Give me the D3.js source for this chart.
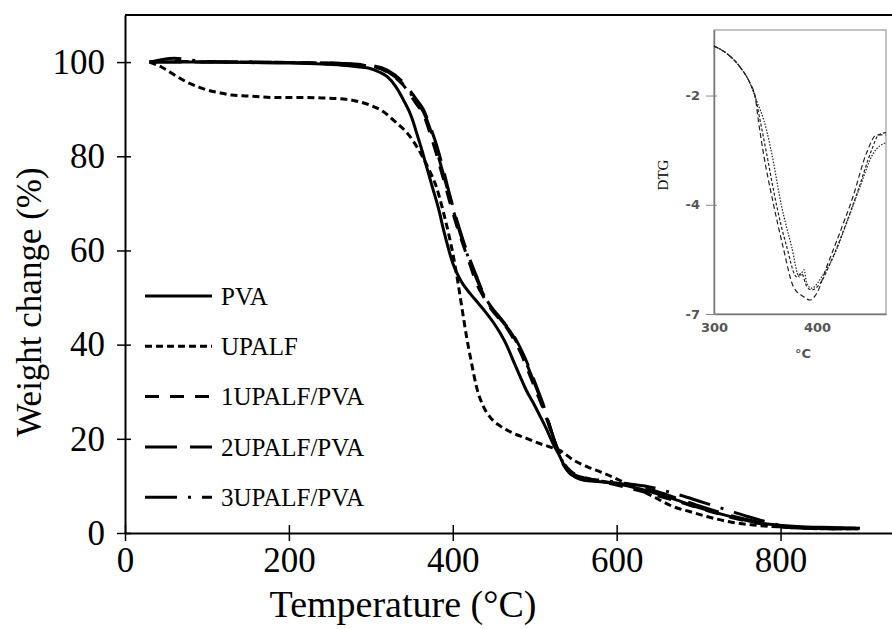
<!DOCTYPE html>
<html>
<head>
<meta charset="utf-8">
<script src="https://cdn.jsdelivr.net/npm/d3@7"></script>
<style>
	html, body { margin: 0; padding: 0; background: #fff; }
	svg { display: block; }
	.serif { font-family: "Liberation Serif", "Times New Roman", serif; fill: #000; }
	.inset-text { font-family: "DejaVu Sans", Verdana, sans-serif; font-weight: bold; fill: #555; }
</style>
</head>
<body>
<div id="chart"></div>
<script>
// ---- main TGA curves (temperature in °C, weight in %) ----
const pvaTemp = [30, 60, 100, 150, 200, 240, 270, 290, 300, 310, 320, 330, 340, 350, 356, 362, 368, 375, 382, 390, 400, 410, 421, 432, 441, 450, 458, 466, 474, 482, 490, 498, 506, 514, 522, 530, 536, 542, 550, 560, 580, 608, 640, 670, 700, 730, 760, 790, 820, 850, 875, 897];
const pvaWeight = [100, 100, 100, 99.9, 99.8, 99.6, 99.3, 98.9, 98.6, 97.9, 96.9, 94.9, 91.9, 88.2, 84.9, 81.5, 77.8, 73.5, 69.3, 63.5, 57.3, 53.5, 50.9, 48.6, 46.7, 44.6, 42.4, 39.8, 36.5, 33.3, 30.2, 27.7, 25.0, 22.2, 19.1, 16.5, 14.3, 12.8, 11.8, 11.2, 10.9, 10.2, 8.8, 7.2, 5.4, 3.9, 2.6, 1.8, 1.4, 1.2, 1.1, 1.0];

const upalfTemp = [30, 45, 60, 75, 90, 100, 115, 130, 150, 180, 210, 240, 270, 285, 300, 315, 330, 345, 358, 370, 380, 388, 395, 401, 406, 411, 417, 423, 429, 437, 445, 458, 474, 490, 506, 520, 531, 547, 565, 580, 600, 620, 645, 669, 690, 710, 740, 767, 800, 835, 872, 895];
const upalfWeight = [100, 98.9, 97.3, 95.8, 94.7, 94.1, 93.5, 93.0, 92.8, 92.5, 92.5, 92.4, 92.1, 91.6, 90.8, 89.5, 87.3, 84.8, 81.5, 77.5, 73.5, 68.5, 63.5, 58.5, 53.5, 48.0, 41.5, 36.0, 31.0, 27.0, 24.7, 22.7, 21.2, 20.1, 19.0, 18.2, 17.5, 15.5, 14.0, 13.0, 11.5, 9.8, 7.7, 5.6, 4.5, 3.5, 2.3, 1.7, 1.3, 1.1, 1.0, 1.0];

// the three composites share one temperature grid
const compositeTemp = [30, 60, 100, 150, 200, 250, 280, 300, 320, 340, 356, 364, 372, 380, 388, 396, 404, 412, 420, 429, 437, 445, 454, 462, 470, 478, 486, 494, 502, 510, 518, 527, 535, 545, 560, 580, 600, 620, 640, 660, 680, 700, 720, 740, 760, 780, 800, 830, 860, 895];
const upalf1Weight = [100, 100.2, 100, 100, 99.9, 99.7, 99.5, 99.2, 97.9, 95.0, 91.0, 89.0, 85.0, 80.5, 75.5, 70.5, 65.7, 61.5, 57.5, 53.0, 50.3, 48.0, 46.0, 44.5, 42.4, 40.0, 37.0, 33.5, 30.0, 26.5, 22.5, 18.3, 15.0, 13.0, 11.8, 11.0, 10.2, 9.3, 8.4, 7.4, 6.4, 5.3, 4.3, 3.3, 2.5, 1.8, 1.3, 1.0, 0.9, 0.9];
const upalf2Weight = [100, 100, 100, 100, 99.9, 99.8, 99.6, 99.3, 98.3, 95.6, 92.0, 90.0, 86.5, 82.5, 77.5, 72.0, 67.0, 62.5, 58.5, 54.5, 51.0, 48.5, 46.5, 44.8, 43.0, 40.8, 38.0, 34.8, 31.2, 27.5, 23.0, 18.0, 14.5, 12.5, 11.5, 11.0, 10.6, 10.1, 9.3, 8.2, 7.0, 5.8, 4.7, 3.7, 2.8, 2.0, 1.4, 1.0, 0.9, 0.9];
const upalf3Weight = [100, 100.8, 100.1, 100, 99.9, 99.8, 99.5, 99.1, 98.0, 95.2, 91.5, 89.5, 86.0, 81.5, 76.5, 71.5, 66.5, 62.0, 58.0, 54.0, 50.8, 48.3, 46.3, 44.6, 42.8, 40.5, 37.6, 34.3, 30.8, 27.0, 22.8, 18.2, 14.8, 12.8, 11.7, 11.2, 10.8, 10.3, 9.8, 8.9, 7.9, 6.8, 5.7, 4.6, 3.5, 2.5, 1.6, 1.1, 0.9, 0.9];

const seriesNames = ['PVA', 'UPALF', '1UPALF/PVA', '2UPALF/PVA', '3UPALF/PVA'];
const seriesDash = ['none', '7,4', '14,11', '32,13', '32,11,3,11'];

const xTicks = [0, 200, 400, 600, 800];
const yTicks = [0, 20, 40, 60, 80, 100];

// ---- inset DTG curves ----
const dtgATemp = [300, 312, 325, 335, 340, 343, 348, 357.6, 367, 377, 386.7, 393, 399.7, 409.4, 422, 435, 448, 458, 467];
const dtgA = [-0.87, -1.03, -1.34, -1.72, -2.03, -2.56, -3.32, -4.47, -5.46, -6.37, -6.6, -6.68, -6.53, -5.92, -5.15, -4.31, -3.32, -2.9, -2.9];
const dtgBTemp = [300, 312, 325, 335, 340, 351, 356, 365.7, 375.4, 382.8, 387.4, 390, 394.8, 404.6, 415.9, 428.8, 441.7, 454.7, 467];
const dtgB = [-0.87, -1.03, -1.34, -1.72, -2.03, -2.79, -3.32, -4.54, -5.46, -6.15, -5.99, -6.3, -6.41, -6.15, -5.69, -4.92, -4.09, -3.32, -3.08];
const dtgCTemp = [300, 312, 325, 335, 340, 344.7, 351, 361, 370.6, 380.3, 385, 390, 394.8, 403, 414.3, 427.2, 440, 453, 459.8, 467];
const dtgC = [-0.87, -1.03, -1.34, -1.72, -2.03, -2.56, -3.32, -4.54, -5.46, -6.15, -6.07, -6.37, -6.45, -6.3, -5.76, -5.0, -4.16, -3.25, -2.9, -2.85];
const dtgDash = ['5,3', '1.5,1.5', '3,2'];
const insetXTicks = [300, 400];
const insetYTicks = [-2, -4.5, -7];
const insetYLabels = ['-2', '-4', '-7'];


const width = 892;
const height = 629;

const svg = d3.select('#chart')
.append('svg')
.attr('width', width)
.attr('height', height);

const x = d3.scaleLinear().domain([0, 936]).range([125, 892]);
const y = d3.scaleLinear().domain([0, 110]).range([533, 15]);

// frame top edge
svg.append('line')
.attr('x1', x.range()[0]).attr('x2', x.range()[1])
.attr('y1', y.range()[1]).attr('y2', y.range()[1])
.attr('stroke', '#000').attr('stroke-width', 2);

const xAxis = svg.append('g')
.attr('transform', `translate(0,${y(0)})`)
.call(d3.axisBottom(x).tickValues(xTicks).tickSizeInner(8).tickSizeOuter(0).tickPadding(6));

const yAxis = svg.append('g')
.attr('transform', `translate(${x(0)},0)`)
.call(d3.axisLeft(y).tickValues(yTicks).tickSizeInner(8).tickSizeOuter(0).tickPadding(12));

// ticks cross the axis line
xAxis.selectAll('.tick line').attr('y1', -8);
yAxis.selectAll('.tick line').attr('x1', 6);

[xAxis, yAxis].forEach( (axis)=>{
	axis.select('.domain').attr('stroke-width', 2);
	axis.selectAll('.tick line').attr('stroke-width', 1.5);
	axis.selectAll('.tick text')
	.attr('class', 'serif')
	.attr('font-size', 35);
});

svg.append('text')
.attr('class', 'serif')
.attr('x', 403).attr('y', 617)
.attr('text-anchor', 'middle')
.attr('font-size', 38)
.text('Temperature (°C)');

svg.append('text')
.attr('class', 'serif')
.attr('transform', 'translate(41,302) rotate(-90)')
.attr('text-anchor', 'middle')
.attr('font-size', 35)
.text('Weight change (%)');

// ---- curves ----
const seriesData = [
	d3.zip(pvaTemp, pvaWeight),
	d3.zip(upalfTemp, upalfWeight),
	d3.zip(compositeTemp, upalf1Weight),
	d3.zip(compositeTemp, upalf2Weight),
	d3.zip(compositeTemp, upalf3Weight)
];

const line = d3.line()
.x( (d)=>x(d[0]) )
.y( (d)=>y(d[1]) )
.curve(d3.curveMonotoneX);

svg.append('g')
.selectAll('path')
.data(seriesData)
.enter()
.append('path')
.attr('d', line)
.attr('fill', 'none')
.attr('stroke', '#000')
.attr('stroke-width', 3)
.attr('stroke-dasharray', (d, i)=>seriesDash[i]);

// ---- legend ----
const legend = svg.append('g')
.selectAll('g')
.data(seriesNames)
.enter()
.append('g')
.attr('transform', (d, i)=>`translate(145,${296 + i * 50.3})`);

legend.append('line')
.attr('x1', 0).attr('x2', 67)
.attr('stroke', '#000')
.attr('stroke-width', 3)
.attr('stroke-dasharray', (d, i)=>seriesDash[i]);

legend.append('text')
.attr('class', 'serif')
.attr('x', 76)
.attr('dy', '0.35em')
.attr('font-size', 25)
.text( (d)=>d );

// ---- inset ----
const ix = d3.scaleLinear().domain([300, 467]).range([714, 886]);
const iy = d3.scaleLinear().domain([-7, -0.5]).range([314, 30]);

const inset = svg.append('g');

inset.append('rect')
.attr('x', ix.range()[0]).attr('y', iy.range()[1])
.attr('width', ix.range()[1] - ix.range()[0])
.attr('height', iy.range()[0] - iy.range()[1])
.attr('fill', '#fff')
.attr('stroke', '#999')
.attr('stroke-width', 1.2);

const ixAxis = inset.append('g')
.attr('transform', `translate(0,${iy.range()[0]})`)
.call(d3.axisBottom(ix).tickValues(insetXTicks).tickSize(0).tickSizeOuter(0).tickPadding(9));

const iyAxis = inset.append('g')
.attr('transform', `translate(${ix.range()[0]},0)`)
.call(d3.axisLeft(iy).tickValues(insetYTicks).tickFormat( (d, i)=>insetYLabels[i] ).tickSizeInner(8).tickSizeOuter(0).tickPadding(6));

iyAxis.selectAll('.tick line').attr('x1', 3).attr('stroke', '#888');

[ixAxis, iyAxis].forEach( (axis)=>{
	axis.select('.domain').attr('stroke', '#777').attr('stroke-width', 1.5);
	axis.selectAll('.tick text')
	.attr('class', 'inset-text')
	.attr('font-size', 13);
});

inset.append('text')
.attr('class', 'inset-text')
.attr('x', 803).attr('y', 358)
.attr('text-anchor', 'middle')
.attr('font-size', 13)
.text('°C');

inset.append('text')
.attr('class', 'serif')
.attr('transform', 'translate(668,175) rotate(-90)')
.attr('text-anchor', 'middle')
.attr('font-size', 15)
.attr('fill', '#333')
.text('DTG');

const dtgData = [
	d3.zip(dtgATemp, dtgA),
	d3.zip(dtgBTemp, dtgB),
	d3.zip(dtgCTemp, dtgC)
];

const insetLine = d3.line()
.x( (d)=>ix(d[0]) )
.y( (d)=>iy(d[1]) )
.curve(d3.curveMonotoneX);

inset.append('g')
.selectAll('path')
.data(dtgData)
.enter()
.append('path')
.attr('d', insetLine)
.attr('fill', 'none')
.attr('stroke', '#222')
.attr('stroke-width', 1.2)
.attr('stroke-dasharray', (d, i)=>dtgDash[i]);
</script>
</body>
</html>
